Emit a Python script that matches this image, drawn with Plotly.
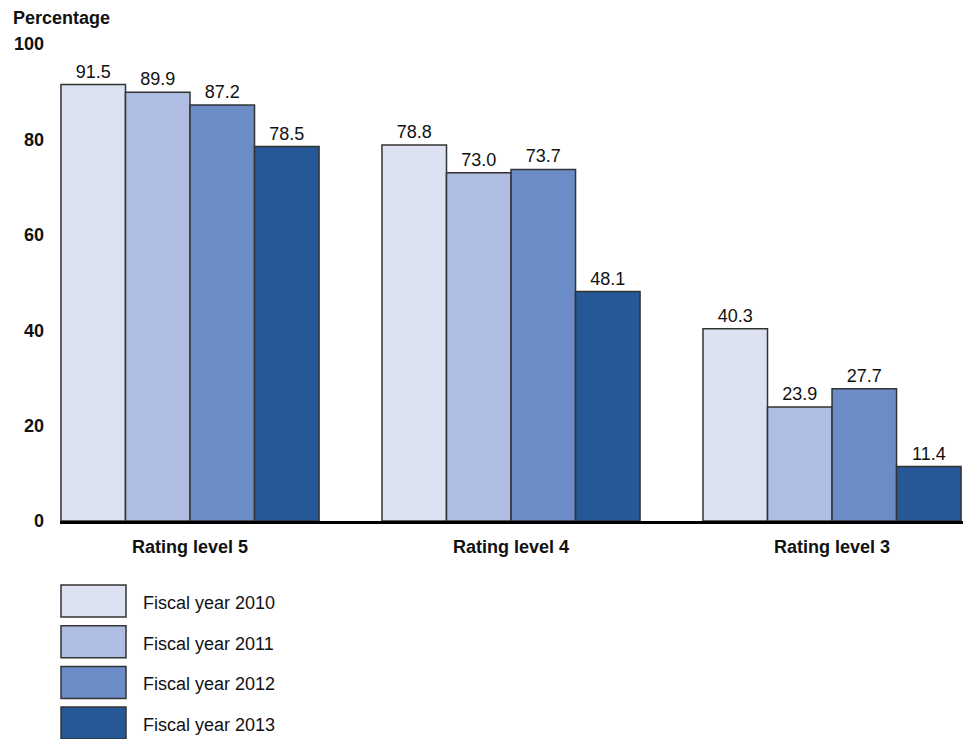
import plotly.graph_objects as go

categories = ["Rating level 5", "Rating level 4", "Rating level 3"]
series_names = ["Fiscal year 2010", "Fiscal year 2011", "Fiscal year 2012", "Fiscal year 2013"]
fy2010 = [91.5, 78.8, 40.3]
fy2011 = [89.9, 73.0, 23.9]
fy2012 = [87.2, 73.7, 27.7]
fy2013 = [78.5, 48.1, 11.4]
colors = ["#DCE2F1", "#AFBDE2", "#6B8CC7", "#265897"]
y_ticks = [0, 20, 40, 60, 80, 100]

FONT = "Liberation Sans, Arial, sans-serif"
W, H = 970, 739
L, R, T, B = 60, 7, 44, 218
plot_w = W - L - R
plot_h = H - T - B

fig = go.Figure()
for name, vals, col in zip(series_names, [fy2010, fy2011, fy2012, fy2013], colors):
    fig.add_trace(go.Bar(
        x=categories, y=vals, name=name,
        marker=dict(color=col, line=dict(color="#333333", width=1.5)),
        text=[f"{v:.1f}" for v in vals], textposition="outside",
        textfont=dict(family=FONT, size=18, color="#111111"),
        cliponaxis=False, showlegend=False,
    ))

# Legend drawn as large swatches with labels beneath the chart
def px_to_paper_x(px):
    return (px - L) / plot_w

def px_to_paper_y(py):
    return (H - B - py) / plot_h

shapes = []
annotations = []
for i, (name, col) in enumerate(zip(series_names, colors)):
    top = 585 + i * 40.7
    bot = top + 32
    shapes.append(dict(
        type="rect", xref="paper", yref="paper",
        x0=px_to_paper_x(61), x1=px_to_paper_x(126),
        y0=px_to_paper_y(bot), y1=px_to_paper_y(top),
        fillcolor=col, line=dict(color="#333333", width=1.5),
    ))
    annotations.append(dict(
        xref="paper", yref="paper", x=px_to_paper_x(141), y=px_to_paper_y((top + bot) / 2 + 2),
        text=name, showarrow=False, xanchor="left", yanchor="middle",
        font=dict(family=FONT, size=18, color="#111111"),
    ))

annotations.append(dict(
    xref="paper", yref="paper", x=px_to_paper_x(11), y=px_to_paper_y(18),
    text="<b>Percentage</b>", showarrow=False, xanchor="left", yanchor="middle",
    font=dict(family=FONT, size=18, color="#111111"),
))

fig.update_layout(
    width=W, height=H,
    margin=dict(l=L, r=R, t=T, b=B),
    paper_bgcolor="white", plot_bgcolor="white",
    barmode="group", bargap=0.196, bargroupgap=0,
    shapes=shapes, annotations=annotations,
    font=dict(family=FONT, color="#111111"),
    xaxis=dict(
        range=[-0.405, 2.408], showgrid=False, zeroline=False,
        showline=True, linecolor="#000000", linewidth=3,
        ticks="", tickfont=dict(family=FONT, size=18, color="#111111"),
        tickvals=categories, ticktext=[f"<b>{c}</b>" for c in categories],
        ticklabelstandoff=7,
    ),
    yaxis=dict(
        range=[0, 100], tickvals=y_ticks, ticktext=[f"<b>{t}</b>" for t in y_ticks],
        showgrid=False, zeroline=False, showline=False, ticks="",
        tickfont=dict(family=FONT, size=18, color="#111111"),
        ticklabelstandoff=15,
    ),
)

fig.write_html("out.html")
